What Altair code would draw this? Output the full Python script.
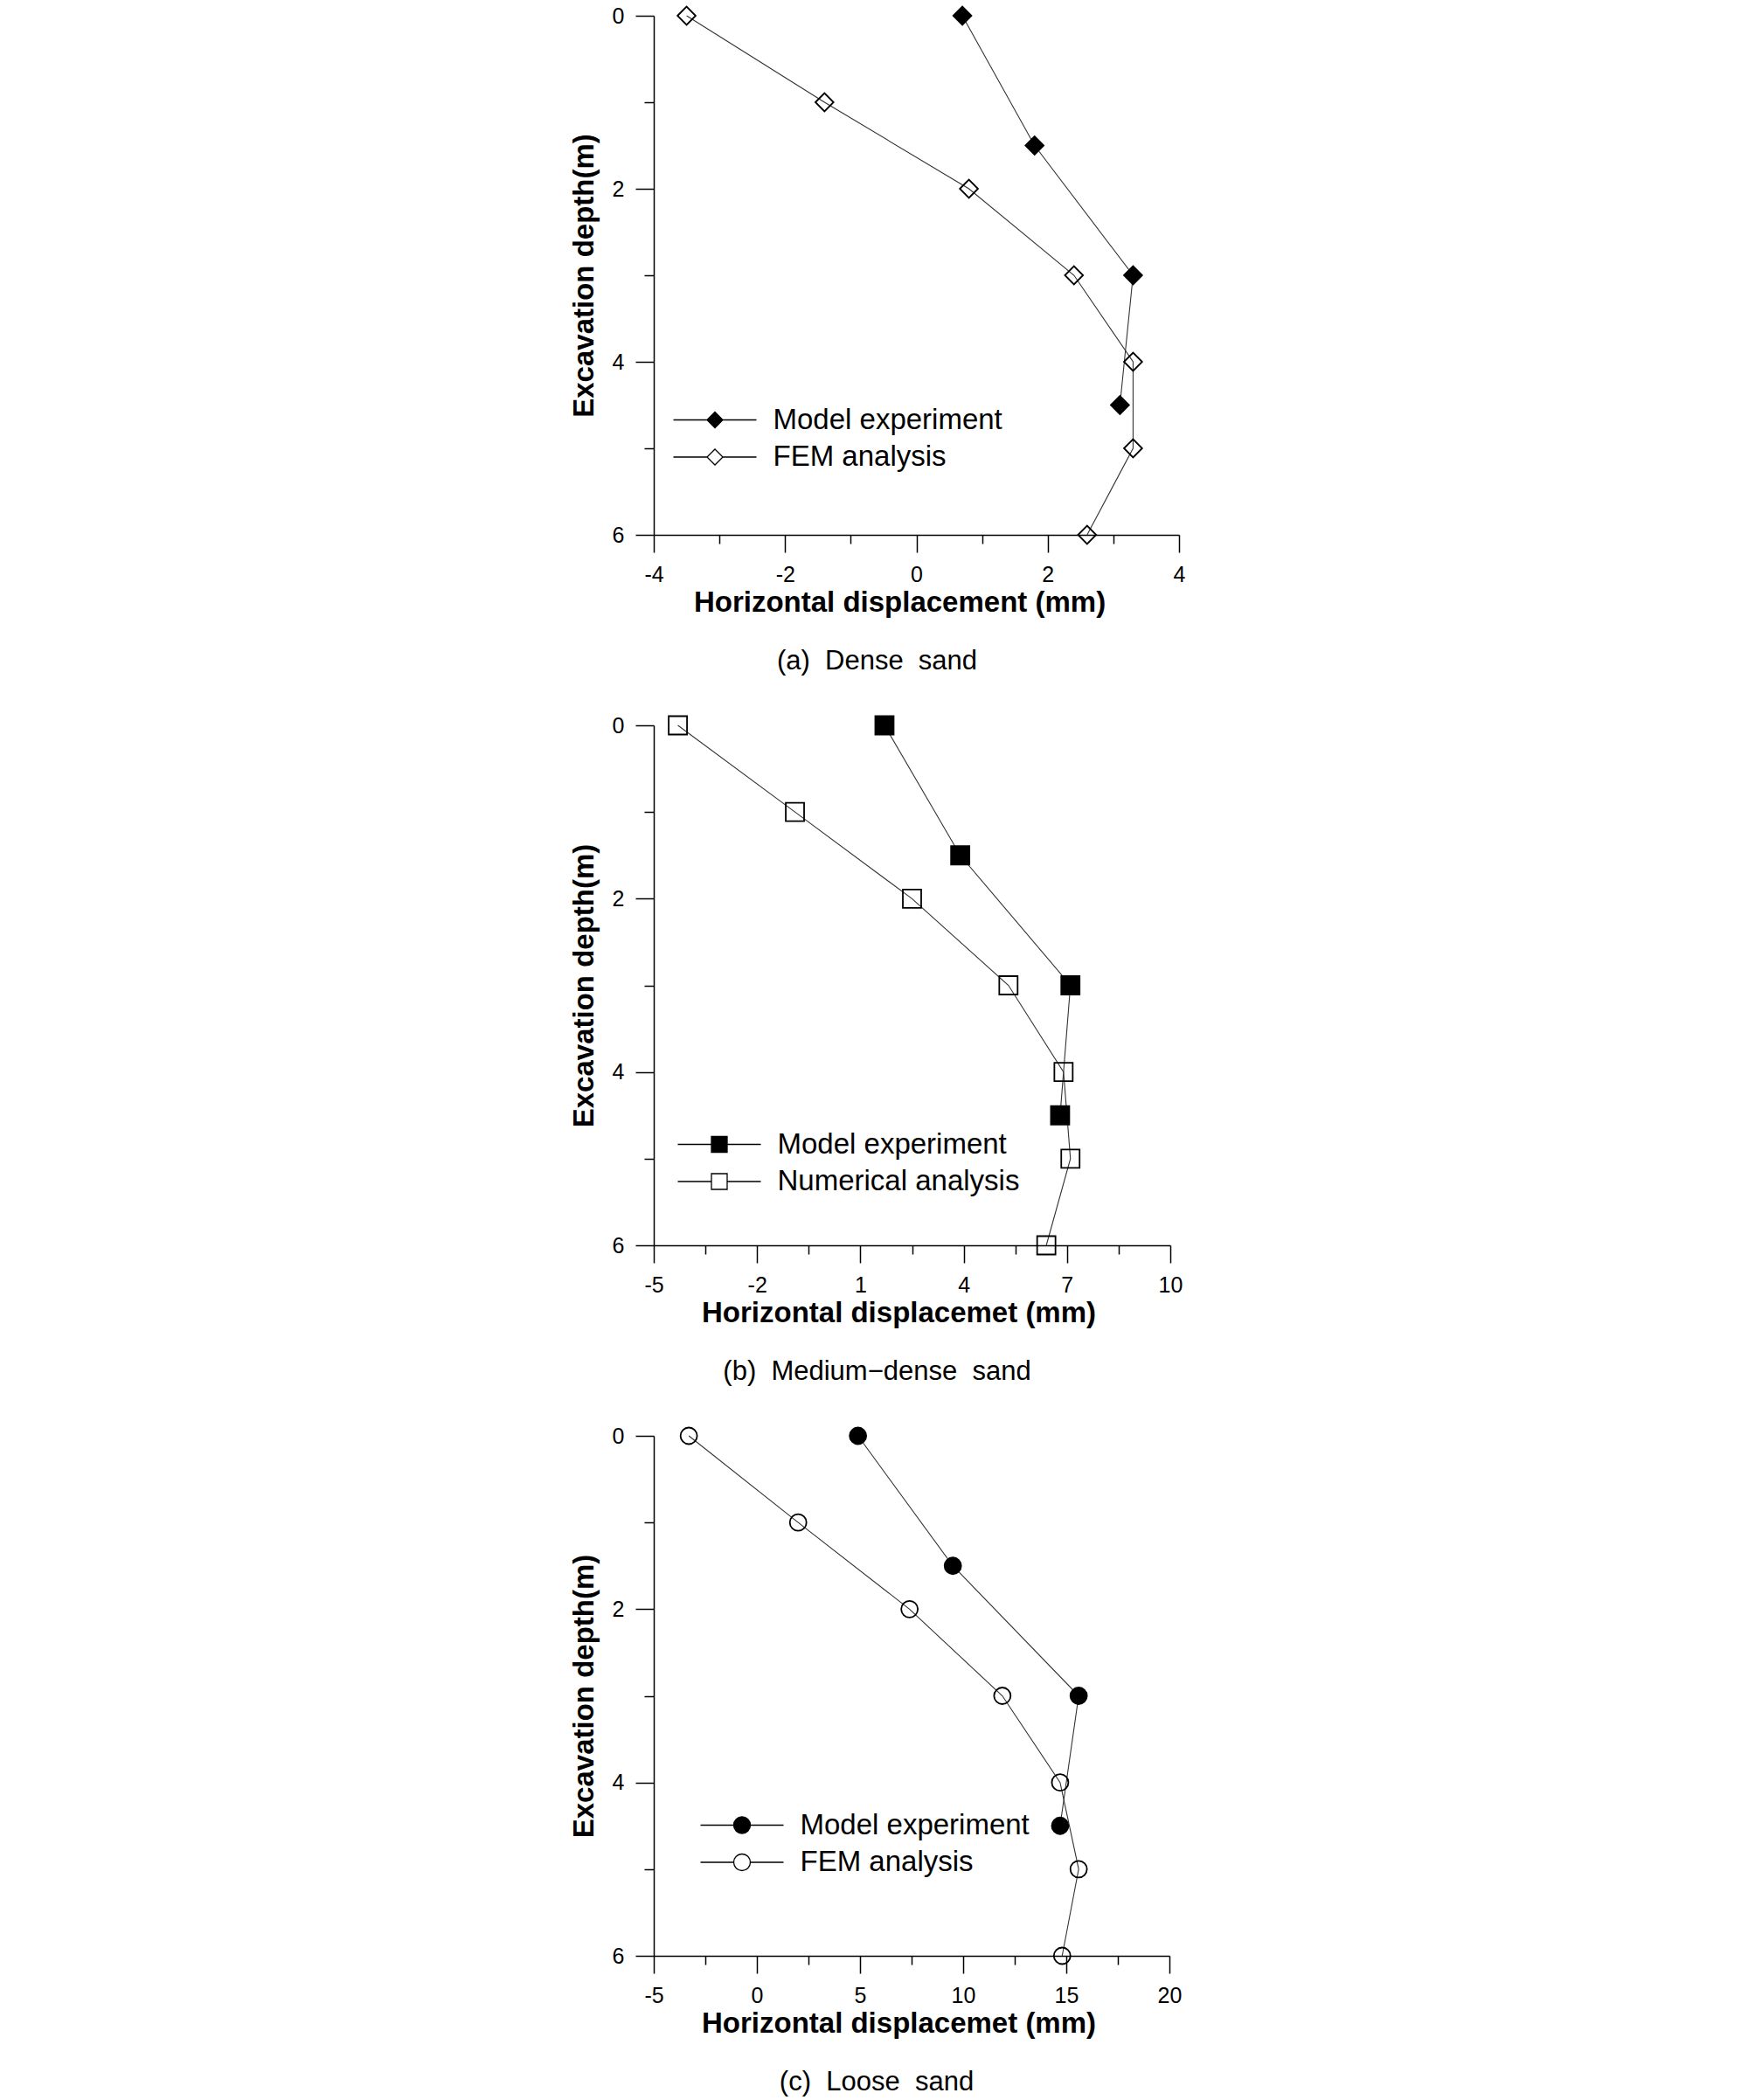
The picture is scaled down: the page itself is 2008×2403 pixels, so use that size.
import altair as alt
import pandas as pd

FONT = "Liberation Sans"

# ---------------- data ----------------
depth_model = [0, 1.5, 3, 4.5]
depth_fem = [0, 1, 2, 3, 4, 5, 6]

dense_model = [0.7, 1.8, 3.3, 3.1]
dense_fem = [-3.5, -1.4, 0.8, 2.4, 3.3, 3.3, 2.6]

medium_model = [1.7, 3.9, 7.1, 6.8]
medium_fem = [-4.3, -0.9, 2.5, 5.3, 6.9, 7.1, 6.4]

loose_model = [4.9, 9.5, 15.6, 14.7]
loose_fem = [-3.3, 2.0, 7.4, 11.9, 14.7, 15.6, 14.8]

label_model = "Model experiment"
label_fem = "FEM analysis"
label_num = "Numerical analysis"

y_ticks = [0, 1, 2, 3, 4, 5, 6]
y_major = [0, 2, 4, 6]

x_ticks_a = [-4, -3, -2, -1, 0, 1, 2, 3, 4]
x_major_a = [-4, -2, 0, 2, 4]
x_ticks_b = [-5, -3.5, -2, -0.5, 1, 2.5, 4, 5.5, 7, 8.5, 10]
x_major_b = [-5, -2, 1, 4, 7, 10]
x_ticks_c = [-5, -2.5, 0, 2.5, 5, 7.5, 10, 12.5, 15, 17.5, 20]
x_major_c = [-5, 0, 5, 10, 15, 20]

# legend symbols: line with a marker in the middle (custom path, unit = 10 px)
P_DIAMOND = "M-4.75,0L-0.9,0M0.9,0L4.75,0M0,-0.9L0.9,0L0,0.9L-0.9,0Z"
P_SQUARE = "M-4.75,0L-0.9,0M0.9,0L4.75,0M-0.9,-0.9L0.9,-0.9L0.9,0.9L-0.9,0.9Z"
P_CIRCLE = "M-4.75,0L-0.95,0M0.95,0L4.75,0M0.95,0A0.95,0.95 0 1,1 -0.95,0A0.95,0.95 0 1,1 0.95,0Z"


def js_list(vals):
    return "[" + ",".join(str(v) for v in vals) + "]"


def cond(majors, major_val, minor_val):
    return {"condition": {"test": f"indexof({js_list(majors)}, datum.value) >= 0",
                          "value": major_val},
            "value": minor_val}


def panel(model, fem, fem_label, shape, size, domain, ticks, majors, xtitle,
          caption, width, height, legx, legy, sym_path, title_x, cap_dx):
    df = pd.DataFrame({
        "disp": model + fem,
        "depth": depth_model + depth_fem,
        "series": [label_model] * len(model) + [fem_label] * len(fem),
        "ord": list(range(len(model))) + list(range(len(fem))),
    })
    x = alt.X("disp:Q",
              scale=alt.Scale(domain=domain, nice=False, zero=False),
              axis=alt.Axis(values=ticks,
                            labelExpr=f"indexof({js_list(majors)}, datum.value) >= 0 ? (datum.value + '') : ''",
                            tickSize=cond(majors, 20, 10),
                            tickWidth=1.5, tickColor="black",
                            domainColor="black", domainWidth=1.5,
                            labelFont=FONT, labelFontSize=25, labelColor="black",
                            labelPadding=13, labelFlush=False, labelOverlap=False,
                            title=xtitle, titleFont=FONT, titleFontSize=33,
                            titleFontWeight="bold", titleColor="black",
                            titlePadding=3, titleX=title_x, grid=False))
    y = alt.Y("depth:Q",
              scale=alt.Scale(domain=[0, 6], reverse=True, nice=False, zero=False),
              axis=alt.Axis(values=y_ticks,
                            labelExpr=f"indexof({js_list(y_major)}, datum.value) >= 0 ? (datum.value + '') : ''",
                            tickSize=cond(y_major, 21, 11),
                            tickWidth=1.5, tickColor="black",
                            domainColor="black", domainWidth=1.5,
                            labelFont=FONT, labelFontSize=25, labelColor="black",
                            labelPadding=13, labelFlush=False, labelOverlap=False,
                            title="Excavation depth(m)", titleFont=FONT,
                            titleFontSize=33, titleFontWeight="bold",
                            titleColor="black", titlePadding=15, grid=False))
    base = alt.Chart(df)
    line = base.mark_line(color="#333333", strokeWidth=1.1).encode(
        x=x, y=y, detail="series:N", order="ord:Q")
    pts = base.mark_point(shape=shape, size=size, filled=True, stroke="black",
                          strokeWidth=1.8, opacity=1).encode(
        x=x, y=y,
        fill=alt.Fill("series:N",
                      scale=alt.Scale(domain=[label_model, fem_label],
                                      range=["black", "transparent"]),
                      sort=[label_model, fem_label],
                      legend=alt.Legend(orient="none", legendX=legx, legendY=legy,
                                        title=None, symbolType=sym_path,
                                        symbolSize=400, symbolStrokeColor="black",
                                        symbolStrokeWidth=1.3, symbolOffset=37.5,
                                        labelOffset=50, labelFont=FONT,
                                        labelFontSize=33, labelColor="black",
                                        labelLimit=0,
                                        rowPadding=8.5, padding=0)))
    return alt.layer(line, pts).properties(
        width=width, height=height,
        title=alt.TitleParams(text=caption, orient="bottom", anchor="middle",
                              frame="group", dx=cap_dx, offset=36, font=FONT,
                              fontSize=31, fontWeight="normal", color="black"))


NB = "\u00a0"
pa = panel(dense_model, dense_fem, label_fem, "diamond", 430, [-4, 4],
           x_ticks_a, x_major_a, "Horizontal displacement (mm)",
           f"(a){NB} Dense{NB} sand", 601, 594, 16, 446, P_DIAMOND, 281, -45)
pb = panel(medium_model, medium_fem, label_num, "square", 440, [-5, 10],
           x_ticks_b, x_major_b, "Horizontal displacemet (mm)",
           f"(b){NB} Medium\u2212dense{NB} sand", 591, 595, 21, 463, P_SQUARE, 280, -40)
pc = panel(loose_model, loose_fem, label_fem, "circle", 360, [-5, 20],
           x_ticks_c, x_major_c, "Horizontal displacemet (mm)",
           f"(c){NB} Loose{NB} sand", 590, 595, 47, 429, P_CIRCLE, 280, -40)

chart = alt.vconcat(pa, pb, pc, spacing=218, bounds="flush").properties(
    padding={"left": 652, "top": 4, "right": 40, "bottom": 20}
).configure_view(stroke=None).resolve_scale(fill="independent", x="independent")

chart.save("out.html", embed_options={"renderer": "svg", "actions": False})
